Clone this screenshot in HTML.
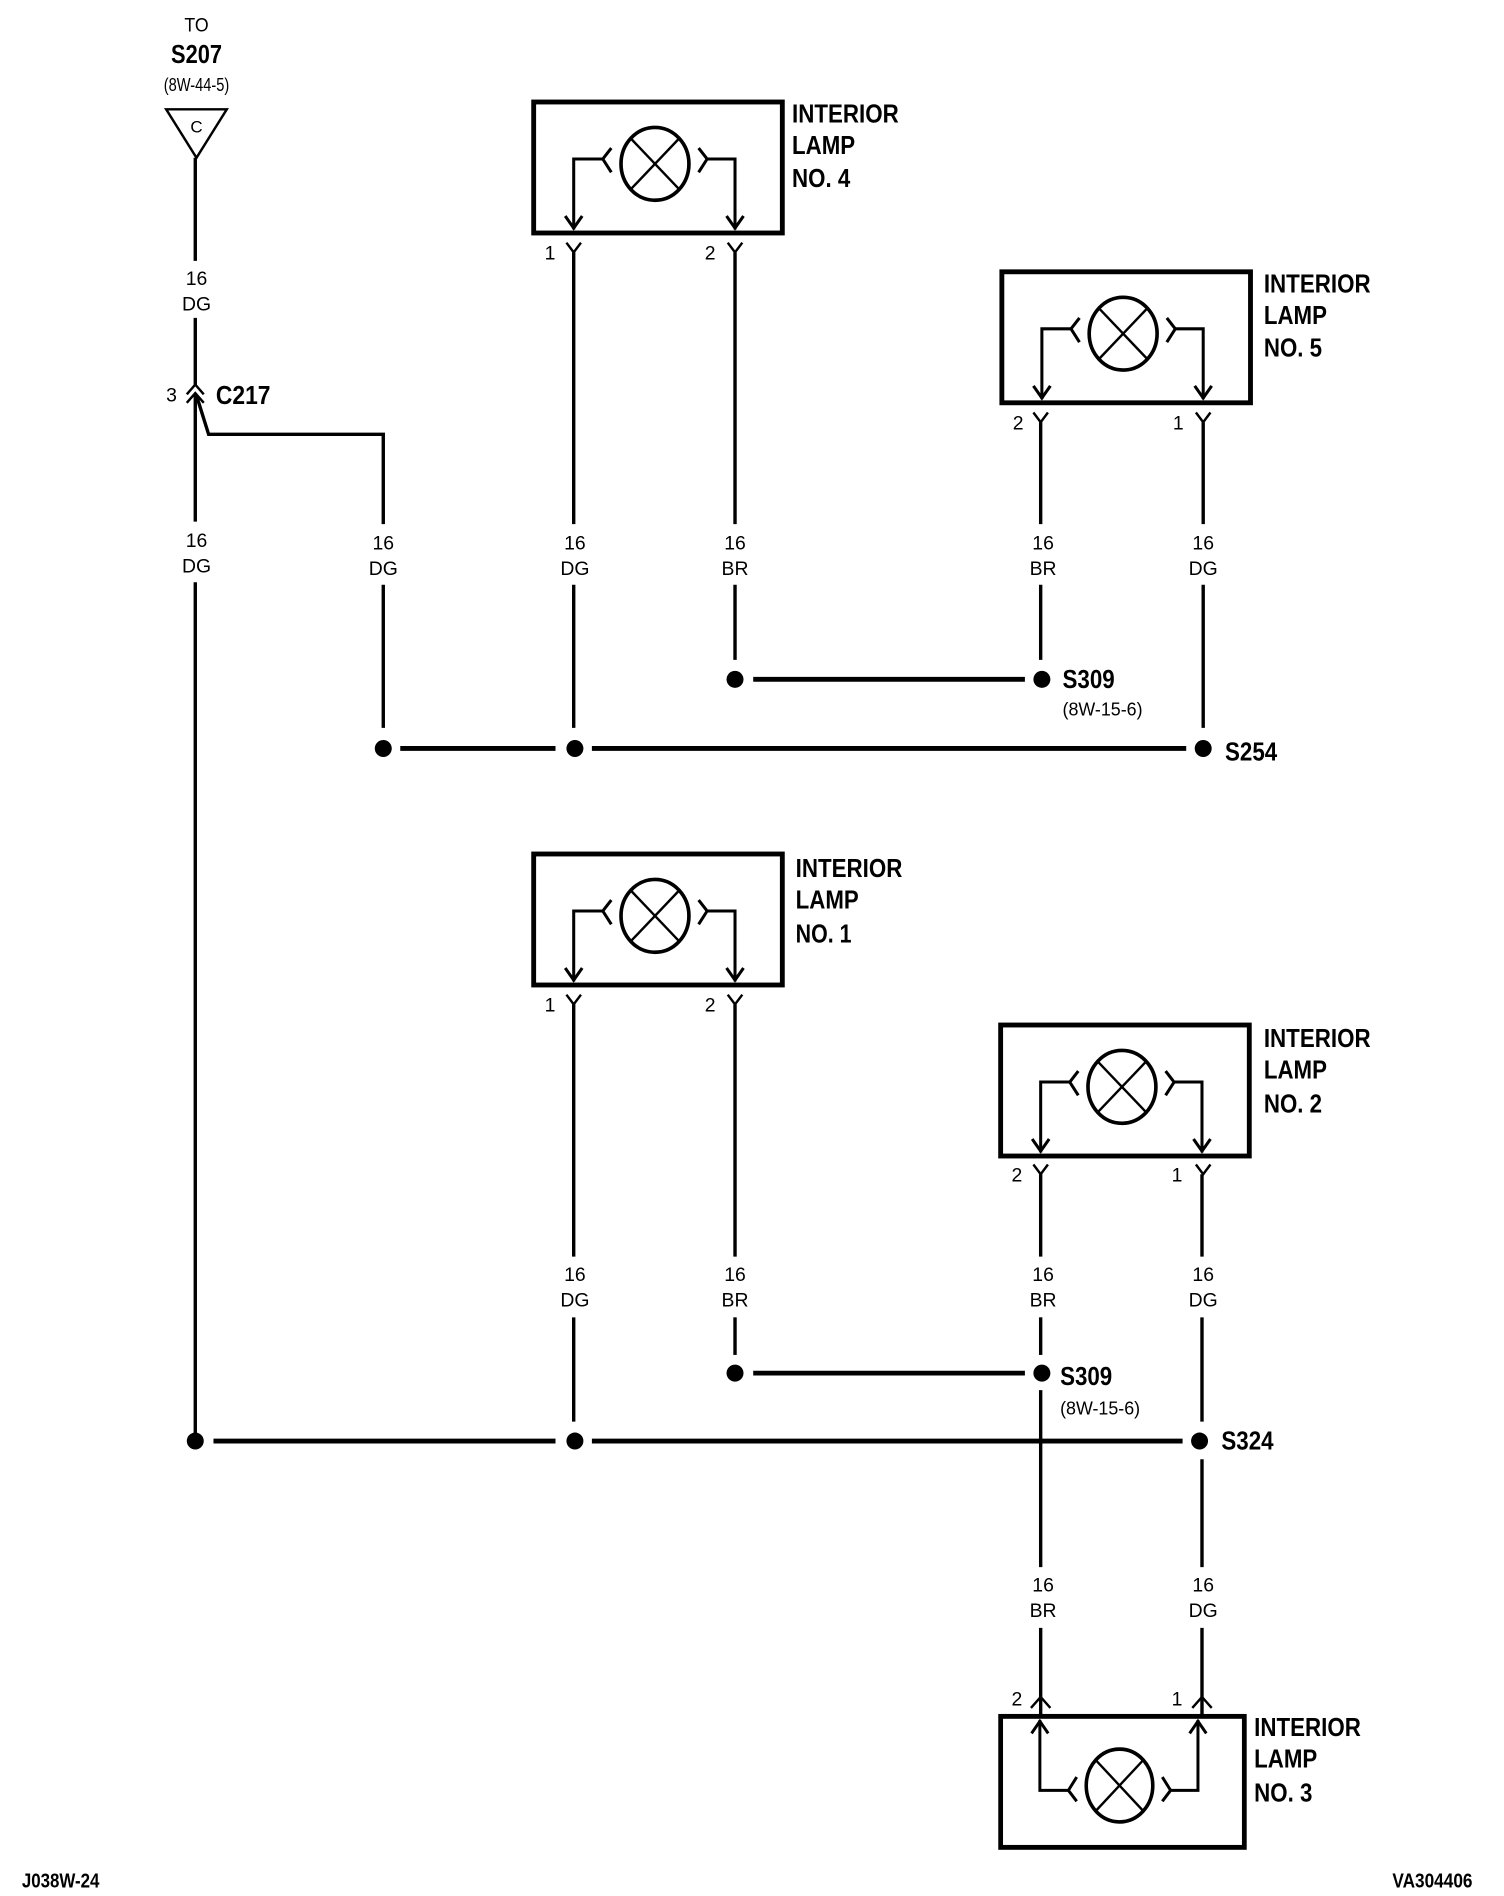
<!DOCTYPE html>
<html><head><meta charset="utf-8"><style>
html,body{margin:0;padding:0;background:#fff;}
svg{display:block;}
text{font-family:"Liberation Sans Narrow","Liberation Sans",sans-serif;fill:#000;}
.b{font-weight:bold;}
</style></head><body>
<svg width="1504" height="1896" viewBox="0 0 1240 1563" xmlns="http://www.w3.org/2000/svg">
<defs>
<g id="lamp" fill="none" stroke="#000">
  <rect x="0" y="0" width="205" height="108" stroke-width="4"/>
  <ellipse cx="100" cy="51" rx="28" ry="30" stroke-width="3"/>
  <line x1="80" y1="30" x2="120" y2="72" stroke-width="2"/>
  <line x1="120" y1="30" x2="80" y2="72" stroke-width="2"/>
  <polyline points="64,38 57,47 64,58" stroke-width="2.5"/>
  <polyline points="136,38 143,47 136,58" stroke-width="2.5"/>
  <polyline points="57,47 33,47 33,105" stroke-width="2.5"/>
  <polyline points="143,47 166,47 166,105" stroke-width="2.5"/>
  <polyline points="26,94 33,104 40,94" stroke-width="2.5"/>
  <polyline points="159,94 166,104 173,94" stroke-width="2.5"/>
</g>
</defs>
<g fill="none" stroke="#000" stroke-width="2.8">
  <polygon points="137,90 187,90 162,130" stroke-width="2"/>
  <line x1="161" y1="130" x2="161" y2="215"/>
  <line x1="161" y1="262" x2="161" y2="318"/>
  <polyline points="154,325 161,317 168,325" stroke-width="2"/>
  <polyline points="154,332 161,324 168,332" stroke-width="2"/>
  <line x1="161" y1="324" x2="161" y2="430"/>
  <line x1="161" y1="480" x2="161" y2="1185"/>
  <polyline points="162,326 172,358 316,358 316,432"/>
  <line x1="316" y1="482" x2="316" y2="600"/>
  <polyline points="467,200 473,208 479,200" stroke-width="2"/>
  <polyline points="600,200 606,208 612,200" stroke-width="2"/>
  <line x1="473" y1="208" x2="473" y2="432"/>
  <line x1="473" y1="482" x2="473" y2="600"/>
  <line x1="606" y1="208" x2="606" y2="432"/>
  <line x1="606" y1="482" x2="606" y2="544"/>
  <polyline points="852,340 858,348 864,340" stroke-width="2"/>
  <polyline points="986,340 992,348 998,340" stroke-width="2"/>
  <line x1="858" y1="348" x2="858" y2="432"/>
  <line x1="858" y1="482" x2="858" y2="544"/>
  <line x1="992" y1="348" x2="992" y2="432"/>
  <line x1="992" y1="482" x2="992" y2="600"/>
  <line x1="621" y1="560" x2="845" y2="560" stroke-width="4"/>
  <line x1="330" y1="617" x2="458" y2="617" stroke-width="4"/>
  <line x1="488" y1="617" x2="978" y2="617" stroke-width="4"/>
  <polyline points="467,820 473,828 479,820" stroke-width="2"/>
  <polyline points="600,820 606,828 612,820" stroke-width="2"/>
  <line x1="473" y1="828" x2="473" y2="1036"/>
  <line x1="473" y1="1086" x2="473" y2="1172"/>
  <line x1="606" y1="828" x2="606" y2="1036"/>
  <line x1="606" y1="1086" x2="606" y2="1117"/>
  <polyline points="852,960 858,968 864,960" stroke-width="2"/>
  <polyline points="986,960 992,968 998,960" stroke-width="2"/>
  <line x1="858" y1="968" x2="858" y2="1036"/>
  <line x1="858" y1="1086" x2="858" y2="1117"/>
  <line x1="858" y1="1146" x2="858" y2="1292"/>
  <line x1="858" y1="1342" x2="858" y2="1414"/>
  <line x1="991" y1="968" x2="991" y2="1036"/>
  <line x1="991" y1="1086" x2="991" y2="1172"/>
  <line x1="991" y1="1203" x2="991" y2="1292"/>
  <line x1="991" y1="1342" x2="991" y2="1414"/>
  <line x1="621" y1="1132" x2="845" y2="1132" stroke-width="4"/>
  <line x1="176" y1="1188" x2="458" y2="1188" stroke-width="4"/>
  <line x1="488" y1="1188" x2="975" y2="1188" stroke-width="4"/>
  <polyline points="850,1408 858,1399 866,1408" stroke-width="2"/>
  <polyline points="983,1408 991,1399 999,1408" stroke-width="2"/>
</g>
<g fill="#000">
  <circle cx="316" cy="617" r="7"/><circle cx="474" cy="617" r="7"/><circle cx="992" cy="617" r="7"/>
  <circle cx="606" cy="560" r="7"/><circle cx="859" cy="560" r="7"/>
  <circle cx="606" cy="1132" r="7"/><circle cx="859" cy="1132" r="7"/>
  <circle cx="161" cy="1188" r="7"/><circle cx="474" cy="1188" r="7"/><circle cx="989" cy="1188" r="7"/>
</g>
<use href="#lamp" transform="translate(440,84)"/>
<use href="#lamp" transform="translate(826,224)"/>
<use href="#lamp" transform="translate(440,704)"/>
<use href="#lamp" transform="translate(825,845)"/>
<use href="#lamp" transform="translate(825,1523) scale(0.98,-1)"/>
<g font-size="16" text-anchor="middle">
  <text x="162" y="26" textLength="20" lengthAdjust="spacingAndGlyphs">TO</text>
  <text x="162" y="52" class="b" font-size="21" textLength="42" lengthAdjust="spacingAndGlyphs">S207</text>
  <text x="162" y="75" font-size="15" textLength="54" lengthAdjust="spacingAndGlyphs">(8W-44-5)</text>
  <text x="162" y="109" font-size="14">C</text>
  <text x="162" y="235">16</text><text x="162" y="256">DG</text>
  <text x="162" y="451">16</text><text x="162" y="472">DG</text>
  <text x="316" y="453">16</text><text x="316" y="474">DG</text>
  <text x="474" y="453">16</text><text x="474" y="474">DG</text>
  <text x="606" y="453">16</text><text x="606" y="474">BR</text>
  <text x="860" y="453">16</text><text x="860" y="474">BR</text>
  <text x="992" y="453">16</text><text x="992" y="474">DG</text>
  <text x="474" y="1056">16</text><text x="474" y="1077">DG</text>
  <text x="606" y="1056">16</text><text x="606" y="1077">BR</text>
  <text x="860" y="1056">16</text><text x="860" y="1077">BR</text>
  <text x="992" y="1056">16</text><text x="992" y="1077">DG</text>
  <text x="860" y="1312">16</text><text x="860" y="1333">BR</text>
  <text x="992" y="1312">16</text><text x="992" y="1333">DG</text>
</g>
<g font-size="16" lengthAdjust="spacingAndGlyphs">
  <text x="137" y="331">3</text>
  <text x="449" y="214">1</text><text x="581" y="214">2</text>
  <text x="835" y="354">2</text><text x="967" y="354">1</text>
  <text x="449" y="834">1</text><text x="581" y="834">2</text>
  <text x="834" y="974">2</text><text x="966" y="974">1</text>
  <text x="834" y="1406">2</text><text x="966" y="1406">1</text>
  <text x="876" y="590" font-size="15" textLength="66" lengthAdjust="spacingAndGlyphs">(8W-15-6)</text>
  <text x="874" y="1166" font-size="15" textLength="66" lengthAdjust="spacingAndGlyphs">(8W-15-6)</text>
  <text x="18" y="1556" class="b" font-size="17" textLength="64" lengthAdjust="spacingAndGlyphs">J038W-24</text>
  <text x="1148" y="1556" class="b" font-size="17" textLength="66" lengthAdjust="spacingAndGlyphs">VA304406</text>
</g>
<g font-size="21" class="b">
  <text x="178" y="333" class="b" textLength="45" lengthAdjust="spacingAndGlyphs">C217</text>
  <text x="876" y="567" class="b" textLength="43" lengthAdjust="spacingAndGlyphs">S309</text>
  <text x="874" y="1142" class="b" textLength="43" lengthAdjust="spacingAndGlyphs">S309</text>
  <text x="1010" y="627" class="b" textLength="43" lengthAdjust="spacingAndGlyphs">S254</text>
  <text x="1007" y="1195" class="b" textLength="43" lengthAdjust="spacingAndGlyphs">S324</text>
  <text x="653" y="101" class="b" textLength="88" lengthAdjust="spacingAndGlyphs">INTERIOR</text><text x="653" y="127" class="b" textLength="52" lengthAdjust="spacingAndGlyphs">LAMP</text><text x="653" y="154" class="b" textLength="48" lengthAdjust="spacingAndGlyphs">NO. 4</text>
  <text x="1042" y="241" class="b" textLength="88" lengthAdjust="spacingAndGlyphs">INTERIOR</text><text x="1042" y="267" class="b" textLength="52" lengthAdjust="spacingAndGlyphs">LAMP</text><text x="1042" y="294" class="b" textLength="48" lengthAdjust="spacingAndGlyphs">NO. 5</text>
  <text x="656" y="723" class="b" textLength="88" lengthAdjust="spacingAndGlyphs">INTERIOR</text><text x="656" y="749" class="b" textLength="52" lengthAdjust="spacingAndGlyphs">LAMP</text><text x="656" y="777" class="b" textLength="46" lengthAdjust="spacingAndGlyphs">NO. 1</text>
  <text x="1042" y="863" class="b" textLength="88" lengthAdjust="spacingAndGlyphs">INTERIOR</text><text x="1042" y="889" class="b" textLength="52" lengthAdjust="spacingAndGlyphs">LAMP</text><text x="1042" y="917" class="b" textLength="48" lengthAdjust="spacingAndGlyphs">NO. 2</text>
  <text x="1034" y="1431" class="b" textLength="88" lengthAdjust="spacingAndGlyphs">INTERIOR</text><text x="1034" y="1457" class="b" textLength="52" lengthAdjust="spacingAndGlyphs">LAMP</text><text x="1034" y="1485" class="b" textLength="48" lengthAdjust="spacingAndGlyphs">NO. 3</text>
</g>
</svg>
</body></html>
